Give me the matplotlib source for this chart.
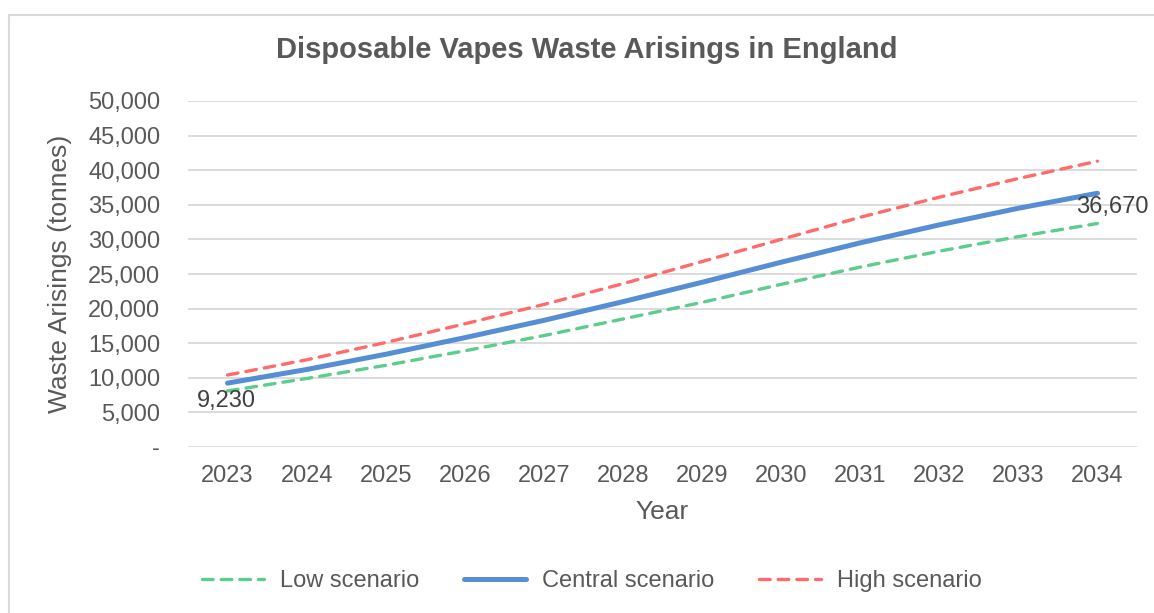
import numpy as np
import matplotlib
matplotlib.use("Agg")
import matplotlib.pyplot as plt
from matplotlib.patches import Rectangle
from matplotlib.ticker import FuncFormatter

# -----------------------------
# Data
# -----------------------------
years = [2023, 2024, 2025, 2026, 2027, 2028, 2029, 2030, 2031, 2032, 2033, 2034]

low_scenario = [8100, 9900, 11800, 13900, 16100, 18500, 20900, 23500, 26000, 28300, 30400, 32300]
central_scenario = [9230, 11200, 13400, 15800, 18300, 21000, 23800, 26700, 29500, 32100, 34500, 36670]
high_scenario = [10400, 12600, 15100, 17800, 20600, 23600, 26800, 30000, 33200, 36100, 38800, 41300]

y_ticks = [0, 5000, 10000, 15000, 20000, 25000, 30000, 35000, 40000, 45000, 50000]

# -----------------------------
# Styles
# -----------------------------
plt.rcParams["font.family"] = ["Liberation Sans", "DejaVu Sans"]
text_grey = "#595959"
green = "#5ECC8C"
blue = "#558ED5"
red = "#FF6B6B"

fig = plt.figure(figsize=(11.54, 6.13), dpi=100)
ax = fig.add_axes([188 / 1154, 1 - 447 / 613, (1137 - 188) / 1154, (447 - 101) / 613])

# outer chart border (top and left edges visible)
fig.patches.append(Rectangle((8.5 / 1154, -0.01), 1.02, 1 - 14.5 / 613 + 0.01,
                             transform=fig.transFigure, fill=False,
                             edgecolor="#D9D9D9", linewidth=1.5))

ax.plot(years, low_scenario, color=green, linewidth=2.4, dashes=(3.2, 2.4),
        label="Low scenario", dash_capstyle="round")
ax.plot(years, central_scenario, color=blue, linewidth=3.6,
        label="Central scenario", solid_capstyle="round")
ax.plot(years, high_scenario, color=red, linewidth=2.4, dashes=(3.2, 2.4),
        label="High scenario", dash_capstyle="round")

# data labels on the central line
ax.annotate(f"{central_scenario[0]:,}", (years[0], central_scenario[0]),
            xytext=(-1, -5), textcoords="offset points",
            ha="center", va="top", fontsize=17, color="#404040")
ax.annotate(f"{central_scenario[-1]:,}", (years[-1], central_scenario[-1]),
            xytext=(11, -2), textcoords="offset points",
            ha="center", va="top", fontsize=17, color="#404040")

ax.set_xlim(2022.5, 2034.5)
ax.set_ylim(0, 50000)
ax.set_xticks(years)
ax.set_yticks(y_ticks)
ax.yaxis.set_major_formatter(FuncFormatter(lambda v, p: "-" if v == 0 else f"{int(v):,}"))

ax.grid(axis="y", color="#D9D9D9", linewidth=1.3)
ax.set_axisbelow(True)
for s in ax.spines.values():
    s.set_visible(False)
ax.tick_params(axis="both", length=0, labelsize=17, colors=text_grey)
ax.tick_params(axis="x", pad=13)
ax.tick_params(axis="y", pad=20)

ax.set_xlabel("Year", fontsize=19, color=text_grey)
ax.set_ylabel("Waste Arisings (tonnes)", fontsize=19, color=text_grey)
ax.xaxis.set_label_coords(0.5, -(512 - 447) / 346, transform=ax.transAxes)
ax.xaxis.label.set_va("center")
ax.yaxis.set_label_coords((60 - 188) / 949, 0.5, transform=ax.transAxes)
ax.yaxis.label.set_va("center")

fig.text(587 / 1154, 1 - 50 / 613, "Disposable Vapes Waste Arisings in England",
         ha="center", va="center", fontsize=21, fontweight="bold", color=text_grey)

fig.legend(loc="center", bbox_to_anchor=(592 / 1154, 1 - 581 / 613), ncol=3,
           frameon=False, fontsize=17, handlelength=2.6, columnspacing=1.9,
           labelcolor=text_grey, handletextpad=0.7)

fig.savefig("out.png", dpi=100)
